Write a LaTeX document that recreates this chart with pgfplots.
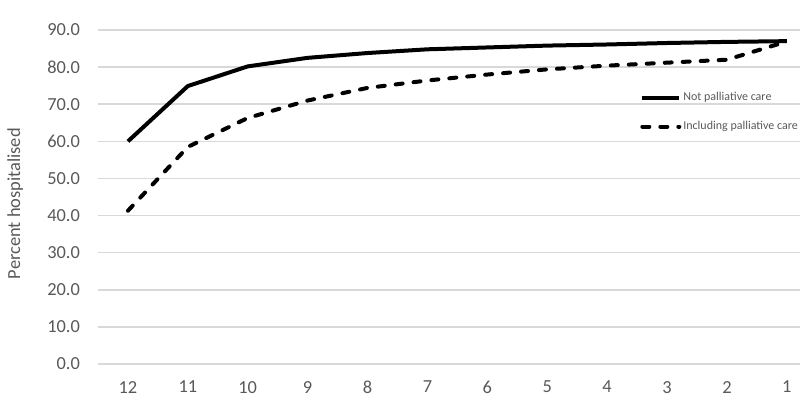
\documentclass[border=0pt]{standalone}
\usepackage{pgfplots}
\pgfplotsset{compat=1.18}
\usepackage{fontspec}
\setmainfont{Carlito}
\definecolor{txtc}{HTML}{595959}
\definecolor{gridc}{HTML}{D9D9D9}

\begin{document}
\begin{tikzpicture}
\useasboundingbox (0,0) rectangle (400pt,209.5pt);
\begin{axis}[
    at={(49pt,27.5pt)}, anchor=south west,
    scale only axis,
    width=351pt, height=167pt,
    xmin=-0.5, xmax=11.22,
    ymin=0, ymax=90,
    ytick={0,10,...,90},
    xtick={0,...,11},
    xticklabels={12,11,10,9,8,7,6,5,4,3,2,1},
    axis line style={draw=none},
    major tick length=0pt,
    xmajorgrids=false,
    ymajorgrids=true,
    grid style={draw=gridc, line width=0.8pt},
    tick label style={font=\fontsize{9.2}{11}\selectfont, text=txtc},
    yticklabel style={xshift=-5.5pt},
    xticklabel style={yshift=-5pt},
    /pgf/number format/.cd, fixed, fixed zerofill, precision=1, assume math mode=true,
    /pgfplots/.cd,
    ylabel={Percent hospitalised},
    ylabel style={font=\fontsize{9.2}{11}\selectfont, text=txtc,
        at={(axis description cs:-0.118,0.48)}, anchor=center},
    clip=false,
    legend cell align=left,
    legend image code/.code={\draw[#1] (0pt,0pt) -- (18.5pt,0pt);},
    legend style={
        at={(rel axis cs:0.772,0.82)}, anchor=north west,
        draw=none, fill=none, inner sep=0pt,
        font=\fontsize{6}{7}\selectfont, text=txtc,
        nodes={inner sep=1pt},
        /tikz/row sep=6.5pt,
        /tikz/column sep=0pt,
    },
]
% Not palliative care
\addplot[black, line width=2pt, line join=round]
    coordinates {
        (0,60.0) (1,74.9) (2,80.2) (3,82.5) (4,83.8) (5,84.8)
        (6,85.3) (7,85.8) (8,86.1) (9,86.5) (10,86.8) (11,87.0)
    };
% Including palliative care
\addplot[black, line width=2pt, line cap=round, line join=round,
         dash pattern=on 3.5pt off 5.5pt]
    coordinates {
        (0,41.3) (1,58.5) (2,66.3) (3,71.0) (4,74.4) (5,76.4)
        (6,78.0) (7,79.4) (8,80.4) (9,81.2) (10,82.0) (11,86.9)
    };
\legend{Not palliative care, Including palliative care}
\end{axis}
\end{tikzpicture}
\end{document}
